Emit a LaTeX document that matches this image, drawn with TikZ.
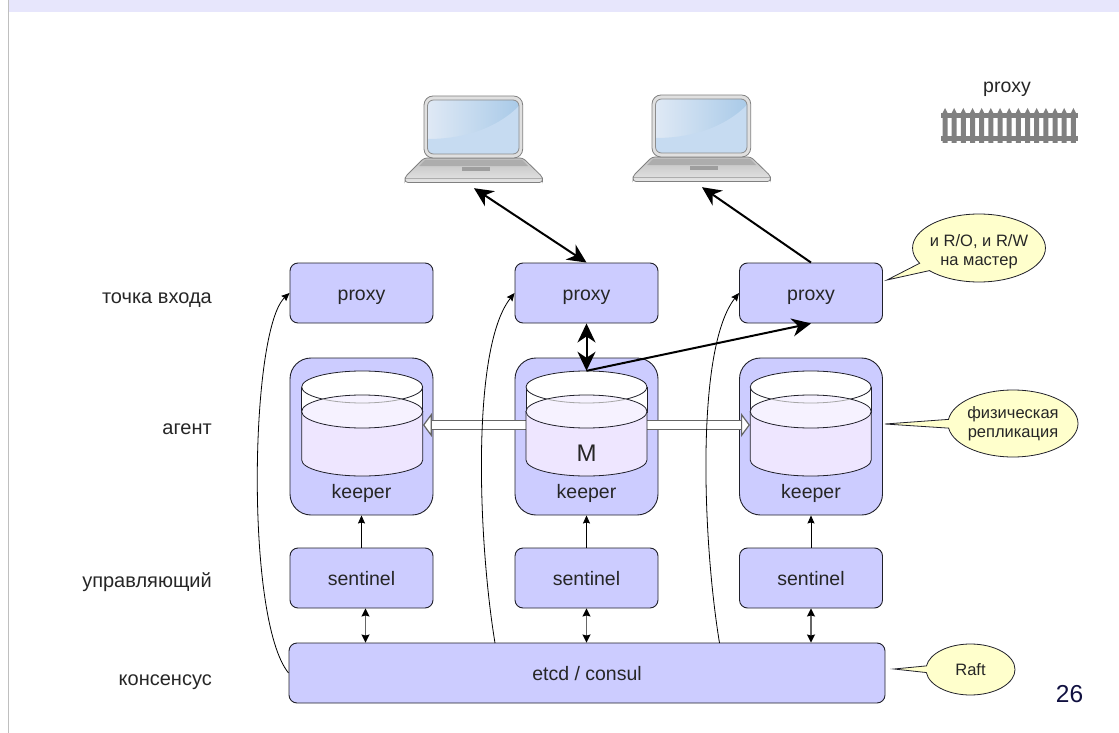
\documentclass[tikz,border=0pt]{standalone}
\usepackage{fontspec}
\setmainfont{Liberation Sans}
\usetikzlibrary{calc,arrows.meta,positioning,shapes.callouts}

\definecolor{boxblue}{HTML}{CCCCFF}
\definecolor{boxline}{HTML}{20202A}
\definecolor{dblow}{HTML}{EEE6FF}
\definecolor{dbtop}{HTML}{F6F2FF}
\definecolor{notefill}{HTML}{FFFFCC}
\definecolor{headband}{HTML}{E7E6FC}
\definecolor{pagenum}{HTML}{101040}
\definecolor{screenleft}{HTML}{DFE9F5}
\definecolor{screenright}{HTML}{A9CAE8}
\definecolor{screenlow}{HTML}{C6DBF1}

\tikzset{
    txt/.style={font=\fontsize{19.5}{23}\selectfont, text=black!85, text height=14pt, text depth=0pt},
    captxt/.style={txt, font=\fontsize{20}{23}\selectfont, anchor=east, inner sep=0pt},
    smalltxt/.style={font=\fontsize{16.5}{19}\selectfont, text=black!85, align=center},
    pbox/.style={draw=boxline, fill=boxblue, line width=0.9pt, rounded corners=8pt, minimum width=143pt, minimum height=60pt, txt},
    kbox/.style={draw=boxline, fill=boxblue, line width=0.9pt, rounded corners=21pt, minimum width=143pt, minimum height=157pt},
    dbnode/.style={inner sep=0pt, minimum width=121pt, minimum height=108pt},
    lapnode/.style={inner sep=0pt, minimum width=138pt, minimum height=92pt},
    note/.style={ellipse callout, draw=boxline, fill=notefill, line width=0.8pt, inner sep=0pt, smalltxt},
    bigarrow/.style={line width=2pt, black, {Stealth[length=19pt,width=18pt,inset=6pt]}-{Stealth[length=19pt,width=18pt,inset=6pt]}},
    bigone/.style={line width=2pt, black, -{Stealth[length=19pt,width=18pt,inset=6pt]}},
    thinarrow/.style={line width=0.8pt, black, -{Stealth[length=8pt,width=7pt,inset=1pt]}},
    syncarrow/.style={line width=1.5pt, black!60, {Stealth[length=8pt,width=8pt,inset=1pt,black]}-{Stealth[length=8pt,width=8pt,inset=1pt,black]}},
    replarrow/.style={draw=black!60, line width=1.2pt, double=white, double distance=8.5pt, -{Triangle[length=9pt,width=24pt,fill=white,line width=1.2pt]}},
}

% cylinder inside a keeper, drawn round a named node
\newcommand{\dbshape}[1]{
    \begin{scope}[shift={(#1.center)}, line width=0.8pt, draw=boxline]
        \draw[fill=white] (-60.5,-38) -- (-60.5,-13) -- (60.5,-13) -- (60.5,-38);
        \draw[fill=white] (0,-38) ellipse [x radius=60.5, y radius=16];
        \draw[fill=dblow] (-60.5,-13.5) -- (-60.5,35) arc [start angle=180, end angle=0, x radius=60.5, y radius=16] -- (60.5,-13.5) -- cycle;
        \draw[fill=dbtop] (0,-13.5) ellipse [x radius=60.5, y radius=16.5];
        \draw[gray!70] ([shift={(50:60.5 and 16)}]0,-38) arc [start angle=50, end angle=130, x radius=60.5, y radius=16];
    \end{scope}
}

% laptop picture, drawn round a named node
\newcommand{\laptop}[1]{
    \begin{scope}[shift={(#1.center)}, shift={(-50,-46)}]
        \draw[draw=black!50, top color=black!25, bottom color=black!10, line width=0.8pt, rounded corners=3pt]
            (0,62) -- (99,62) -- (118.5,81) -- (118.5,86.5) -- (-19,86.5) -- (-19,81) -- cycle;
        \fill[black!32] (1,64) -- (98,64) -- (104,70) -- (-5,70) -- cycle;
        \fill[black!38] (38,71) rectangle (66,74.5);
        \draw[black!32] (-18,82) -- (117.5,82);
        \draw[draw=black!50, fill=black!12, line width=0.8pt, rounded corners=9pt] (0,0) rectangle (98.7,62);
        \begin{scope}
            \path[clip, rounded corners=6pt] (3.5,4) rectangle (95,58);
            \shade[left color=screenleft, right color=screenright] (3.5,4) rectangle (95,58);
            \fill[screenlow] (3.5,43) .. controls (35,43) and (70,35) .. (95,10) -- (95,58) -- (3.5,58) -- cycle;
        \end{scope}
        \draw[draw=black!45, line width=0.8pt, rounded corners=6pt] (3.5,4) rectangle (95,58);
    \end{scope}
}

\begin{document}
\begin{tikzpicture}[x=1pt, y=-1pt]
    \useasboundingbox (0,0) rectangle (1119,733);

    % slide frame
    \fill[headband] (9,0) rectangle (1119,12);
    \fill[black!25] (8,0) rectangle (9.3,733);

    % row captions
    \node[captxt] (cap1) at (212,296) {точка входа};
    \node[captxt] (cap2) at (212,427) {агент};
    \node[captxt] (cap3) at (212,580) {управляющий};
    \node[captxt] (cap4) at (212,678) {консенсус};

    % clients
    \node[lapnode] (lap1) at (474,142) {};
    \node[lapnode] (lap2) at (702,141) {};
    \laptop{lap1}
    \laptop{lap2}

    \node[pbox] (proxy1) at (361.5,293) {proxy};
    \node[pbox] (proxy2) at (586.5,293) {proxy};
    \node[pbox] (proxy3) at (811,293) {proxy};

    \node[kbox] (keeper1) at (361.5,436.5) {};
    \node[kbox] (keeper2) at (586.5,436.5) {};
    \node[kbox] (keeper3) at (811,436.5) {};
    \node[txt, above=13.2pt of keeper1.south] (kname1) {keeper};
    \node[txt, above=13.2pt of keeper2.south] (kname2) {keeper};
    \node[txt, above=13.2pt of keeper3.south] (kname3) {keeper};

    \node[pbox] (sent1) at (361.5,578) {sentinel};
    \node[pbox] (sent2) at (586.5,578) {sentinel};
    \node[pbox] (sent3) at (811,578) {sentinel};
    \node[pbox, minimum width=596pt] (etcd) at (587,673) {etcd / consul};

    % storage
    \node[dbnode] (db1) at (362.2,425) {};
    \node[dbnode] (db2) at (586.5,425) {};
    \node[dbnode] (db3) at (810.7,425) {};
    \dbshape{db1}
    \dbshape{db3}
    \draw[replarrow] (db2.west) -- (db1.east);
    \draw[replarrow] (db2.east) -- (db3.west);
    \dbshape{db2}
    \node[txt, font=\fontsize{24}{27}\selectfont] (master) at (586.5,454) {M};

    % etcd to proxies
    \draw[thinarrow] (etcd.west) .. controls (245,620) and (250,330) .. (proxy1.west);
    \draw[thinarrow] (495,643) .. controls (478,540) and (471,348) .. (proxy2.west);
    \draw[thinarrow] (719.5,643) .. controls (702.5,540) and (695.5,348) .. (proxy3.west);

    \draw[thinarrow] (sent1.north) -- (keeper1.south);
    \draw[thinarrow] (sent2.north) -- (keeper2.south);
    \draw[thinarrow] (sent3.north) -- (keeper3.south);

    \draw[syncarrow] ([xshift=4pt]sent1.south) -- ([xshift=4pt]sent1.south |- etcd.north);
    \draw[syncarrow] (sent2.south) -- (sent2.south |- etcd.north);
    \draw[syncarrow] (sent3.south) -- (sent3.south |- etcd.north);

    % client traffic
    \draw[bigarrow] (lap1.south) -- (proxy2.north);
    \draw[bigone] (proxy3.north) -- (lap2.south);
    \draw[bigarrow] (proxy2.south) -- (db2.north);
    \draw[bigone] (db2.north) -- (proxy3.south);

    % legend
    \node[txt] (legend) at (1007,86) {proxy};
    \foreach \i in {0,...,14} {
        \fill[black!50] ({945+9.17*\i-2.5},143) -- ({945+9.17*\i-2.5},113) -- ({945+9.17*\i},108) -- ({945+9.17*\i+2.5},113) -- ({945+9.17*\i+2.5},143) -- cycle;
    }
    \fill[black!50] (941,113) rectangle (1078,118);
    \fill[black!50] (941,136) rectangle (1078,141);

    % remarks
    \coordinate (tip1) at (887,280);
    \coordinate (tip2) at (885,424);
    \coordinate (tip3) at (894,669);
    \node[note, inner xsep=-2.1pt, minimum width=132pt, minimum height=68pt, callout absolute pointer=(tip1)] (note1) at (979,248) {\rule{0pt}{20pt}и R/O, и R/W\\на мастер};
    \node[note, inner xsep=-0.5pt, minimum width=130pt, minimum height=67pt, callout absolute pointer=(tip2)] (note2) at (1013,423.5) {физическая\\репликация};
    \node[note, minimum width=89pt, minimum height=51pt, callout absolute pointer=(tip3)] (note3) at (970.5,669.5) {Raft};

    \node[font=\fontsize{24.5}{28}\selectfont, text=pagenum] (pageno) at (1069.5,694) {26};
\end{tikzpicture}
\end{document}
